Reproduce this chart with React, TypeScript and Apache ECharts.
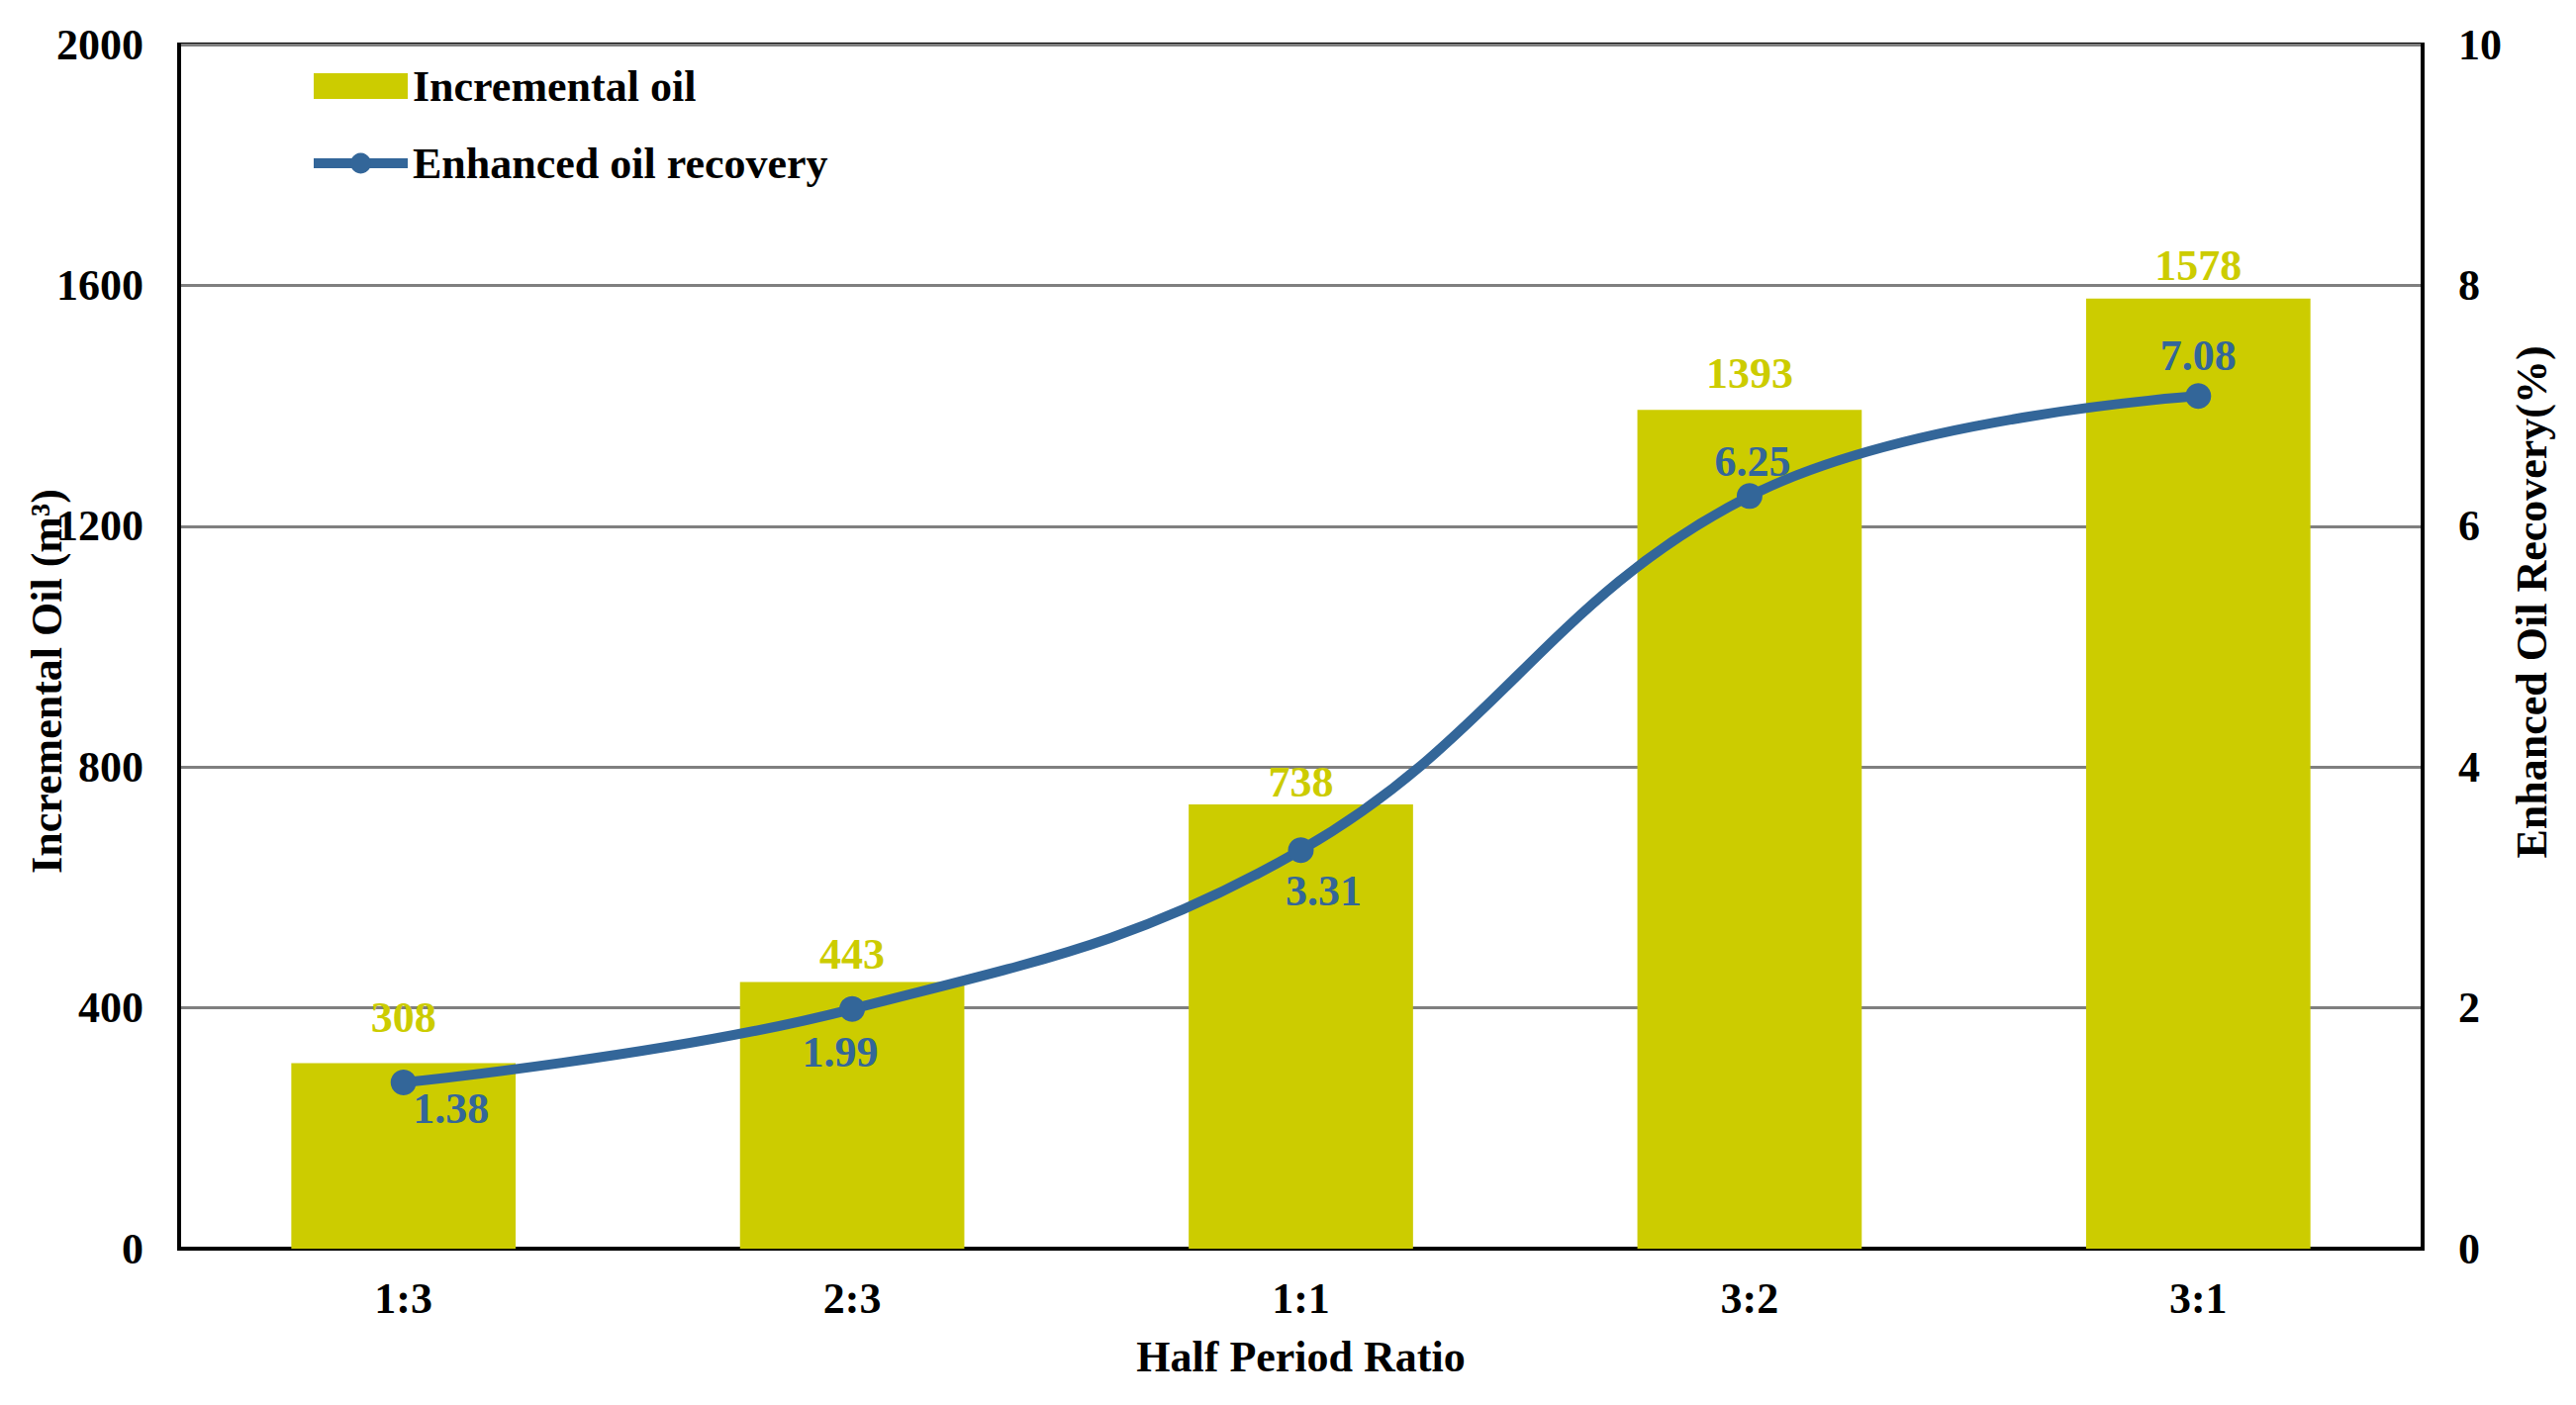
import React, { useEffect, useRef } from "react";
import * as echarts from "echarts";

const categories = ["1:3", "2:3", "1:1", "3:2", "3:1"];
const incrementalOil = [308, 443, 738, 1393, 1578];
const enhancedRecovery = [1.38, 1.99, 3.31, 6.25, 7.08];
const leftTicks = { min: 0, max: 2000, interval: 400 };
const rightTicks = { min: 0, max: 10, interval: 2 };

const FONT = '"Liberation Serif", "Times New Roman", serif';
const BAR_COLOR = "#CCCC00";
const LINE_COLOR = "#336699";

// label placement style (position/offset only)
const barLabelOffsets = [
  [0, -24],
  [0, -6],
  [0, 0],
  [0, -15],
  [0, -11],
];
const lineLabelStyle = [
  { position: "bottom", offset: [48, -17] },
  { position: "bottom", offset: [-12, 1] },
  { position: "bottom", offset: [23, -2] },
  { position: "top", offset: [3, 8] },
  { position: "top", offset: [0, 2] },
];

export default function App() {
  const ref = useRef<HTMLDivElement>(null);
  useEffect(() => {
    document.body.style.margin = "0";
    const chart = echarts.init(ref.current!, undefined, { renderer: "svg" });
    const textBase = { fontFamily: FONT, fontWeight: "bold" as const, fontSize: 44, color: "#000" };
    chart.setOption({
      animation: false,
      backgroundColor: "#fff",
      grid: {
        left: 181,
        right: 155,
        top: 45,
        bottom: 158,
        outerBoundsMode: "none",
        containLabel: false,
        show: true,
        borderColor: "#000",
        borderWidth: 4,
      },
      legend: {
        left: 307,
        top: 60,
        orient: "vertical",
        itemWidth: 95,
        itemHeight: 26,
        itemGap: 34,
        itemStyle: { borderWidth: 0 },
        textStyle: { ...textBase },
        data: [
          { name: "Incremental oil", icon: "rect" },
          { name: "Enhanced oil recovery", lineStyle: { width: 10, color: LINE_COLOR } },
        ],
      },
      xAxis: {
        type: "category",
        data: categories,
        name: "Half Period Ratio",
        nameLocation: "middle",
        nameGap: 87,
        nameMoveOverlap: false,
        nameTextStyle: { ...textBase },
        axisLine: { lineStyle: { color: "#000", width: 4 } },
        axisTick: { show: false },
        axisLabel: { ...textBase, margin: 28 },
      },
      yAxis: [
        {
          type: "value",
          ...leftTicks,
          name: "Incremental Oil (m³)",
          nameLocation: "middle",
          nameRotate: 90,
          nameGap: 112,
          nameMoveOverlap: false,
          nameTextStyle: { ...textBase, padding: [0, 0, 0, -70] },
          axisLine: { show: true, lineStyle: { color: "#000", width: 4 } },
          axisTick: { show: false },
          axisLabel: { ...textBase, margin: 36, formatter: (v: number) => String(v) },
          splitLine: { lineStyle: { color: "#7f7f7f", width: 3 } },
        },
        {
          type: "value",
          ...rightTicks,
          name: "Enhanced Oil Recovery(%)",
          nameLocation: "middle",
          nameRotate: 90,
          nameGap: 88,
          nameMoveOverlap: false,
          nameTextStyle: { ...textBase, padding: [0, 0, 0, 90] },
          axisLine: { show: true, lineStyle: { color: "#000", width: 4 } },
          axisTick: { show: false },
          axisLabel: { ...textBase, margin: 36 },
          splitLine: { show: false },
        },
      ],
      series: [
        {
          name: "Incremental oil",
          type: "bar",
          data: incrementalOil.map((v, i) => ({
            value: v,
            label: { offset: barLabelOffsets[i] },
          })),
          barWidth: "50%",
          itemStyle: { color: BAR_COLOR },
          label: {
            show: true,
            position: "top",
            distance: 0,
            ...textBase,
            color: BAR_COLOR,
          },
        },
        {
          name: "Enhanced oil recovery",
          type: "line",
          yAxisIndex: 1,
          smooth: 0.4,
          data: enhancedRecovery.map((v, i) => ({
            value: v,
            label: { position: lineLabelStyle[i].position, offset: lineLabelStyle[i].offset },
          })),
          symbol: "circle",
          symbolSize: 26,
          lineStyle: { color: LINE_COLOR, width: 10 },
          itemStyle: { color: LINE_COLOR },
          label: {
            show: true,
            ...textBase,
            color: LINE_COLOR,
            distance: 8,
            formatter: (p: any) => p.value.toFixed(2),
          },
        },
      ],
    });
    return () => chart.dispose();
  }, []);
  return <div ref={ref} style={{ width: 2603, height: 1420 }} />;
}
